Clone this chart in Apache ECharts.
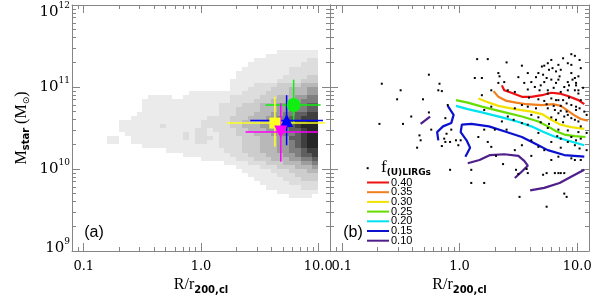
<!DOCTYPE html>
<html><head><meta charset="utf-8">
<script src="https://cdn.jsdelivr.net/npm/echarts@6/dist/echarts.min.js"></script>
<style>html,body{margin:0;padding:0;background:#fff}#c{width:600px;height:300px}</style>
</head><body><div id="c"></div>
<script>
// ---------------- data ----------------
const xMajorTicks = [0.1, 1, 10];
const xMinorTicks = [0.08,0.09,0.2,0.3,0.4,0.5,0.6,0.7,0.8,0.9,2,3,4,5,6,7,8,9];
const yMajorTicks = [1e9, 1e10, 1e11, 1e12];
const yMinorTicks = [2e9,3e9,4e9,5e9,6e9,7e9,8e9,9e9,2e10,3e10,4e10,5e10,6e10,7e10,8e10,9e10,2e11,3e11,4e11,5e11,6e11,7e11,8e11,9e11];

// panel (a): 2D density of galaxies, log10 R bins start -0.85 (0.05 dex), log10 M bins from 11.45 down (0.05 dex)
const hmLogR0 = -0.85, hmDLogR = 0.05, hmLogM0 = 11.45, hmDLogM = 0.05;
const hmRows = [
"0000000000000000000000000000001111111",
"0000000000000000000000000000111111111",
"0000000000000000000000000011111111122",
"0000000000000000000000000111111111222",
"0000000000000000000000001111111122222",
"0000000000000000000000011111111122222",
"0000000000000000000000011111111222233",
"0000000000000000000000111111112222333",
"0000000000000000000000111122223333444",
"0000000000000000000000111222233344455",
"000000000000000"+"1111111"+"11222"+"2333"+"344"+"455",
"00000000"+"1111"+"00"+"11111111"+"22222"+"333"+"444"+"55"+"66",
"0000000"+"111111111111111"+"2222"+"333"+"444"+"55"+"666",
"0000000"+"1111111111111"+"2222"+"333"+"444"+"555"+"66"+"77",
"0000000"+"1111111111111"+"222"+"3333"+"444"+"55"+"666"+"77",
"000000"+"11111111111111"+"222"+"333"+"444"+"55"+"66"+"77"+"88",
"00000"+"11111111111"+"1122"+"22"+"333"+"444"+"55"+"66"+"77"+"888",
"000"+"1111111111111"+"1222"+"22"+"33"+"444"+"55"+"66"+"77"+"8899",
"000"+"1111111"+"2"+"11111"+"1222"+"22"+"33"+"444"+"55"+"66"+"77"+"8999",
"000"+"1111111111111"+"2212"+"222"+"33"+"444"+"55"+"66"+"77"+"899",
"0000"+"1111111111"+"2"+"1"+"2211"+"222"+"333"+"444"+"55"+"66"+"7"+"899",
"0"+"11"+"00"+"111111111"+"2"+"1"+"2221"+"2222"+"333"+"444"+"55"+"77"+"899",
"0"+"11"+"00"+"11111111111"+"2211"+"2222"+"333"+"444"+"55"+"67"+"899",
"0000000"+"1111111111111"+"2222"+"333"+"444"+"55"+"67"+"899",
"00000000000"+"1111111111"+"222"+"333"+"444"+"55"+"66"+"788",
"00000000000000"+"11111111"+"222"+"333"+"444"+"55"+"6778",
"00000000000000000"+"111111"+"222"+"333"+"444"+"55"+"667",
"000000000000000000000"+"1111"+"222"+"333"+"444"+"556",
"00000000000000000000000"+"1111"+"222"+"333"+"4445",
"000000000000000000000000"+"11111"+"222"+"333"+"44",
"0000000000000000000000000"+"11111"+"222"+"3333",
"00000000000000000000000000"+"11111"+"222"+"333",
"000000000000000000000000000"+"11111"+"222"+"22",
"0000000000000000000000000000"+"111111"+"222",
"000000000000000000000000000000"+"1111111",
"00000000000000000000000000000000"+"1111"+"0"
];

// panel (a): median points with error bars (log10 values)
const mkNames   = ['green', 'yellow', 'blue', 'magenta'];
const mkLogR    = [0.79, 0.63, 0.73, 0.68];
const mkLogM    = [10.78, 10.56, 10.59, 10.45];
const mkLogRlo  = [0.55, 0.22, 0.42, 0.38];
const mkLogRhi  = [1.02, 1.06, 1.04, 1.00];
const mkLogMlo  = [10.56, 10.27, 10.29, 10.09];
const mkLogMhi  = [11.09, 10.88, 10.90, 10.80];

// panel (b): f_(U)LIRGs contour levels ([log10 R, log10 M])
const levelLabels = ['0.40','0.35','0.30','0.25','0.20','0.15','0.10'];
const c040 = [[0.36,11.02],[0.38,10.96],[0.44,10.93],[0.53,10.88],[0.61,10.88],[0.70,10.90],[0.78,10.93],[0.85,10.92],[0.92,10.89],[1.01,10.84],[1.06,10.79]];
const c035 = [[0.29,10.95],[0.33,10.88],[0.40,10.83],[0.48,10.81],[0.57,10.79],[0.70,10.78],[0.80,10.79],[0.86,10.77],[0.91,10.72],[0.97,10.66],[1.03,10.61],[1.09,10.59]];
const c030 = [[0.16,10.86],[0.23,10.82],[0.33,10.77],[0.47,10.73],[0.61,10.70],[0.70,10.67],[0.78,10.60],[0.86,10.54],[0.95,10.51],[1.06,10.49]];
const c025 = [[-0.03,10.84],[0.07,10.81],[0.19,10.76],[0.36,10.70],[0.53,10.64],[0.67,10.58],[0.75,10.52],[0.82,10.46],[0.89,10.42],[0.98,10.40],[1.07,10.39]];
const c020 = [[-0.03,10.77],[0.07,10.73],[0.19,10.69],[0.36,10.63],[0.51,10.57],[0.61,10.52],[0.70,10.46],[0.80,10.40],[0.91,10.35],[1.06,10.29]];
const c015a = [[0.05,10.15],[0.09,10.26],[0.06,10.35],[0.01,10.45],[0.02,10.54],[0.10,10.55],[0.25,10.52],[0.38,10.46],[0.53,10.39],[0.64,10.31],[0.75,10.23],[0.89,10.17],[1.06,10.15]];
const c015b = [[-0.10,10.77],[-0.05,10.66],[-0.07,10.56],[-0.14,10.52],[-0.19,10.45],[-0.18,10.35]];
const c010a = [[-0.33,10.55],[-0.25,10.64]];
const c010b = [[0.07,10.07],[0.17,10.11],[0.26,10.17],[0.38,10.18],[0.50,10.16],[0.55,10.10],[0.58,10.04],[0.53,9.97],[0.47,9.89]];
const c010c = [[0.60,9.74],[0.72,9.77],[0.85,9.83],[0.94,9.90],[1.06,9.99]];

// panel (b): individual galaxies ([log10 R, log10 M])
const dots = [
[-0.26,11.15],[-0.66,11.04],[-0.50,10.96],[-0.17,11.04],[-0.18,10.96],[-0.15,10.95],[-0.53,10.85],[-0.31,10.85],[-0.10,10.78],[-0.41,10.64],
[-0.26,10.69],[-0.68,10.55],[-0.48,10.55],[-0.12,10.62],[-0.24,10.48],[-0.34,10.41],[-0.33,10.35],[-0.36,10.26],[-0.11,10.43],[-0.12,10.33],
[-0.08,10.33],[-0.03,10.35],[0.01,10.35],[-0.15,10.28],[-0.01,10.29],[-0.07,10.48],[-0.08,9.99],[-0.78,10.01],[0.10,9.99],[-0.13,10.37],
[0.95,11.40],[0.15,11.34],[0.24,11.34],[0.78,11.33],[0.98,11.38],[0.92,11.29],[0.95,11.27],[0.75,11.29],[0.84,11.27],[0.79,11.23],
[0.82,11.19],[0.86,11.21],[0.33,11.17],[0.67,11.17],[0.71,11.15],[0.65,11.12],[0.61,11.06],[0.72,11.06],[0.78,11.09],[0.50,11.12],
[0.55,11.05],[0.95,11.17],[0.98,11.11],[1.01,11.13],[0.99,11.05],[0.92,11.06],[0.89,11.00],[0.85,11.13],[0.82,11.05],[0.33,11.05],
[0.38,11.06],[0.41,10.96],[0.47,10.94],[0.58,10.97],[0.64,11.00],[0.68,10.96],[0.75,10.96],[0.92,10.96],[0.98,10.96],[1.01,10.92],
[0.78,10.86],[0.84,10.84],[0.88,10.84],[0.67,10.85],[0.72,10.83],[0.53,10.78],[0.58,10.76],[0.47,10.74],[0.27,10.76],[0.21,10.72],
[0.75,10.74],[0.81,10.72],[0.86,10.71],[0.91,10.70],[0.95,10.78],[0.99,10.76],[1.02,10.74],[1.06,10.70],[0.89,10.64],[0.95,10.62],
[0.98,10.60],[0.78,10.63],[0.82,10.60],[0.61,10.66],[0.67,10.63],[0.41,10.64],[0.36,10.58],[0.53,10.56],[0.58,10.54],[0.21,10.48],
[0.30,10.48],[0.16,10.39],[0.75,10.50],[0.84,10.48],[0.92,10.47],[1.01,10.45],[0.95,10.39],[1.03,10.37],[0.67,10.44],[0.24,10.33],
[0.27,10.27],[0.67,10.27],[0.72,10.23],[0.84,10.15],[0.78,10.11],[0.31,10.16],[0.37,10.06],[0.47,10.23],[0.61,10.16],[0.48,9.99],
[0.50,9.94],[0.57,10.00],[0.58,9.95],[0.71,9.93],[0.74,9.95],[0.81,9.95],[0.84,9.95],[0.86,9.95],[0.89,9.95],[0.10,9.83],
[0.21,9.83],[0.51,9.66],[0.89,9.70],[0.91,9.66],[0.74,9.54],[0.95,10.13],[0.98,10.11],[1.03,10.11],[0.13,11.11],[0.19,11.11],
[0.34,11.13],[0.58,11.17],[0.70,11.25],[0.72,11.26],[0.84,11.09],[0.96,11.09],[0.99,11.02],[1.01,10.96],[0.75,10.92],[0.82,10.84],
[0.91,10.80],[0.99,10.72],[0.84,10.68],[0.92,10.66],[1.01,10.58],[0.86,10.37],[0.92,10.33],[0.98,10.29],[1.02,10.25],
[0.76,11.21],[0.88,11.35],[1.02,11.33],[1.03,11.23],[0.93,11.02],[0.80,10.99],[0.74,11.11],[0.86,10.94],[1.05,10.99],[0.69,11.02],
[0.74,10.79],[0.80,10.77],[0.86,10.77],[0.93,10.87],[1.03,10.84],[1.08,10.66],[1.03,10.52],[0.88,10.57],[0.76,10.55],[0.69,10.57],
[0.65,10.74],[0.83,10.40],[1.08,10.44],[0.99,10.35],[0.78,10.33],[1.08,10.23],[0.86,10.26],[0.61,10.35],[0.53,10.29],[0.40,11.30],
[0.53,11.26],[0.27,10.96],[0.19,10.90],[0.46,10.60],[0.40,10.48],[0.59,10.87]
];

// ---------------- styles ----------------
const grayColors = ['#ffffff','#ebebeb','#dddddd','#cdcdcd','#b8b8b8','#9d9d9d','#7f7f7f','#5f5f5f','#3f3f3f','#262626'];
const markerColors = ['#11ee11','#ffff22','#0000ff','#ff00ff'];
const markerSymbols = ['circle','rect','triangle','triangle'];
const markerRotate = [0,0,0,180];
const markerSizes = [14,11,13,13];
const levelColors = ['#ee1111','#f07f20','#f2e200','#66dd00','#00e2ee','#0a10d0','#4f1e8a'];
const frameColor = '#858585';
const X_MIN = Math.pow(10,-1.1), X_MAX = Math.pow(10,1.1);
const Y_MIN = 1e9, Y_MAX = 1e12;

const P = v => Math.pow(10, v);
const toData = arr => arr.map(p => [P(p[0]), P(p[1])]);

// heat cells
const heatData = [];
hmRows.forEach((row, r) => {
  for (let c = 0; c < row.length; c++) {
    const lvl = +row[c];
    if (lvl > 0) {
      heatData.push([
        P(+(hmLogR0 + c*hmDLogR).toFixed(4)), P(+(hmLogR0 + (c+1)*hmDLogR).toFixed(4)),
        P(+(hmLogM0 - (r+1)*hmDLogM).toFixed(4)), P(+(hmLogM0 - r*hmDLogM).toFixed(4)), lvl]);
    }
  }
});

const gridA = {left:72, top:5, width:258, height:246, containLabel:false, outerBoundsMode:'none'};
const gridB = {left:330, top:5, width:259, height:246, containLabel:false, outerBoundsMode:'none'};

function axisBase(type, g, pos, ticks, len, showLine) {
  const isX = type === 'x';
  return {
    type:'log', logBase:10, gridIndex:g, position:pos,
    min: isX ? X_MIN : Y_MIN, max: isX ? X_MAX : Y_MAX,
    axisLine:{show:showLine, lineStyle:{color:frameColor, width:1}},
    axisTick:{show:true, inside:true, length:len, customValues:ticks, lineStyle:{color:frameColor, width:1}},
    axisLabel:{show:false},
    splitLine:{show:false}, minorTick:{show:false}, minorSplitLine:{show:false},
    nameMoveOverlap:false
  };
}
const xRich = {
  r:{fontFamily:'Liberation Serif', fontSize:16, lineHeight:18, color:'#000'},
  s:{fontFamily:'DejaVu Sans', fontWeight:'bold', fontSize:10, lineHeight:10, padding:[11,0,0,0], color:'#000'}
};
function xLabelled(g) {
  const a = axisBase('x', g, 'bottom', xMajorTicks, 8, true);
  a.axisLabel = {show:true, customValues:xMajorTicks, margin:9, fontFamily:'DejaVu Serif', fontSize:13, color:'#000',
    formatter: v => (+v).toFixed(1), hideOverlap:false, showMinLabel:true, showMaxLabel:true};
  a.name = '{r|R/r}{s|200,cl}'; a.nameLocation = 'middle'; a.nameGap = 25;
  a.nameTextStyle = {rich:xRich};
  return a;
}
const yRich = {
  b:{fontFamily:'DejaVu Serif', fontSize:15, lineHeight:15, color:'#000'},
  s:{fontFamily:'DejaVu Serif', fontSize:9, lineHeight:9, padding:[0,0,12,0], color:'#000'},
  bT:{fontFamily:'DejaVu Serif', fontSize:15, lineHeight:15, padding:[14,0,0,0], color:'#000'},
  sT:{fontFamily:'DejaVu Serif', fontSize:9, lineHeight:9, padding:[14,0,12,0], color:'#000'},
  bB:{fontFamily:'DejaVu Serif', fontSize:15, lineHeight:15, padding:[0,0,6,0], color:'#000'},
  sB:{fontFamily:'DejaVu Serif', fontSize:9, lineHeight:9, padding:[0,0,18,0], color:'#000'}
};
const yNameRich = {
  m:{fontFamily:'Liberation Serif', fontSize:16, lineHeight:18, color:'#000'},
  s:{fontFamily:'DejaVu Sans', fontWeight:'bold', fontSize:10, lineHeight:10, padding:[8,0,0,0], color:'#000'},
  o:{fontFamily:'DejaVu Sans', fontSize:9, lineHeight:9, padding:[9,0,0,0], color:'#000'}
};

const xAxes = [
  xLabelled(0), axisBase('x',0,'top',xMajorTicks,8,true),
  axisBase('x',1,'bottom',xMinorTicks,4,false), axisBase('x',1,'top',xMinorTicks,4,false),
  xLabelled(2), axisBase('x',2,'top',xMajorTicks,8,true),
  axisBase('x',3,'bottom',xMinorTicks,4,false), axisBase('x',3,'top',xMinorTicks,4,false)
];
const yA = axisBase('y',0,'left',yMajorTicks,8,true);
yA.axisLabel = {show:true, customValues:yMajorTicks, margin:2, rich:yRich, hideOverlap:false,
  formatter: v => { const e = Math.round(Math.log10(v)); const t = e===12?'T':(e===9?'B':''); return '{b'+t+'|10}{s'+t+'|'+e+'}'; }};
yA.name = '{m|M}{s|star}{m| (M}{o|⊙}{m|)}'; yA.nameLocation='middle'; yA.nameGap = 41;
yA.nameTextStyle = {rich:yNameRich};
const yAxes = [
  yA, axisBase('y',0,'right',yMajorTicks,8,true),
  axisBase('y',1,'left',yMinorTicks,4,false), axisBase('y',1,'right',yMinorTicks,4,false),
  axisBase('y',2,'left',yMajorTicks,8,true), axisBase('y',2,'right',yMajorTicks,8,true),
  axisBase('y',3,'left',yMinorTicks,4,false), axisBase('y',3,'right',yMinorTicks,4,false)
];

const series = [];
series.push({
  type:'custom', name:'density', xAxisIndex:0, yAxisIndex:0, z:1, clip:true, silent:true,
  encode:{x:[0,1], y:[2,3]}, data:heatData,
  renderItem: (params, api) => {
    const p0 = api.coord([api.value(0), api.value(3)]);
    const p1 = api.coord([api.value(1), api.value(2)]);
    const x0 = Math.round(p0[0]), y0 = Math.round(p0[1]), x1 = Math.round(p1[0]), y1 = Math.round(p1[1]);
    return {type:'rect', shape:{x:x0, y:y0, width:x1-x0, height:y1-y0}, style:{fill:grayColors[api.value(4)]}};
  }
});
series.push({
  type:'custom', name:'errors', xAxisIndex:0, yAxisIndex:0, z:3, silent:true,
  encode:{x:[0,2,3], y:[1,4,5]},
  data: mkNames.map((n,i) => [P(mkLogR[i]), P(mkLogM[i]), P(mkLogRlo[i]), P(mkLogRhi[i]), P(mkLogMlo[i]), P(mkLogMhi[i])]),
  renderItem: (params, api) => {
    const xl = api.coord([api.value(2), api.value(1)]);
    const xh = api.coord([api.value(3), api.value(1)]);
    const yl = api.coord([api.value(0), api.value(4)]);
    const yh = api.coord([api.value(0), api.value(5)]);
    const col = markerColors[params.dataIndex];
    return {type:'group', children:[
      {type:'line', shape:{x1:xl[0], y1:xl[1], x2:xh[0], y2:xh[1]}, style:{stroke:col, lineWidth:1.5}},
      {type:'line', shape:{x1:yl[0], y1:yl[1], x2:yh[0], y2:yh[1]}, style:{stroke:col, lineWidth:1.5}}
    ]};
  }
});
mkNames.forEach((n,i) => {
  series.push({type:'scatter', name:n, xAxisIndex:0, yAxisIndex:0, z:4, silent:true,
    symbol:markerSymbols[i], symbolRotate:markerRotate[i], symbolSize:markerSizes[i],
    itemStyle:{color:markerColors[i], opacity:1},
    data:[[P(mkLogR[i]), P(mkLogM[i])]]});
});
const contourSets = [[c040],[c035],[c030],[c025],[c020],[c015a,c015b],[c010a,c010b,c010c]];
contourSets.forEach((segs, li) => {
  segs.forEach(seg => {
    series.push({type:'line', name:levelLabels[li], xAxisIndex:4, yAxisIndex:4, z:3, silent:true,
      symbol:'none', smooth:false, lineStyle:{color:levelColors[li], width:2.2}, data:toData(seg)});
  });
});
series.push({type:'scatter', name:'galaxies', xAxisIndex:4, yAxisIndex:4, z:5, silent:true,
  symbol:'rect', symbolSize:2, itemStyle:{color:'#000', opacity:1}, data:toData(dots)});

// legend & panel labels
const graphic = [
  {type:'text', style:{text:'(a)', x:94, y:233, align:'center', verticalAlign:'middle', font:'16px "Liberation Sans"', fill:'#000'}},
  {type:'text', style:{text:'(b)', x:353, y:233, align:'center', verticalAlign:'middle', font:'16px "Liberation Sans"', fill:'#000'}},
  {type:'text', style:{text:'{f|f}{s|(U)LIRGs}', x:381, y:168, verticalAlign:'middle', fill:'#000',
    rich:{f:{fontFamily:'Liberation Serif', fontSize:17, lineHeight:17, fill:'#000'},
          s:{fontFamily:'DejaVu Sans', fontWeight:'bold', fontSize:9, lineHeight:9, padding:[10,0,0,0], fill:'#000'}}}}
];
levelLabels.forEach((lab, i) => {
  const y = 182.5 + 9.7*i;
  graphic.push({type:'line', shape:{x1:367, y1:y, x2:389, y2:y}, style:{stroke:levelColors[i], lineWidth:2}});
  graphic.push({type:'text', style:{text:lab, x:391, y:y, verticalAlign:'middle', font:'11px "Liberation Sans"', fill:'#000'}});
});

const chart = echarts.init(document.getElementById('c'), null, {renderer:'canvas', width:600, height:300});
chart.setOption({
  animation:false, backgroundColor:'#fff',
  grid:[gridA, Object.assign({}, gridA), gridB, Object.assign({}, gridB)],
  xAxis:xAxes, yAxis:yAxes, series:series, graphic:graphic
});
</script></body></html>
